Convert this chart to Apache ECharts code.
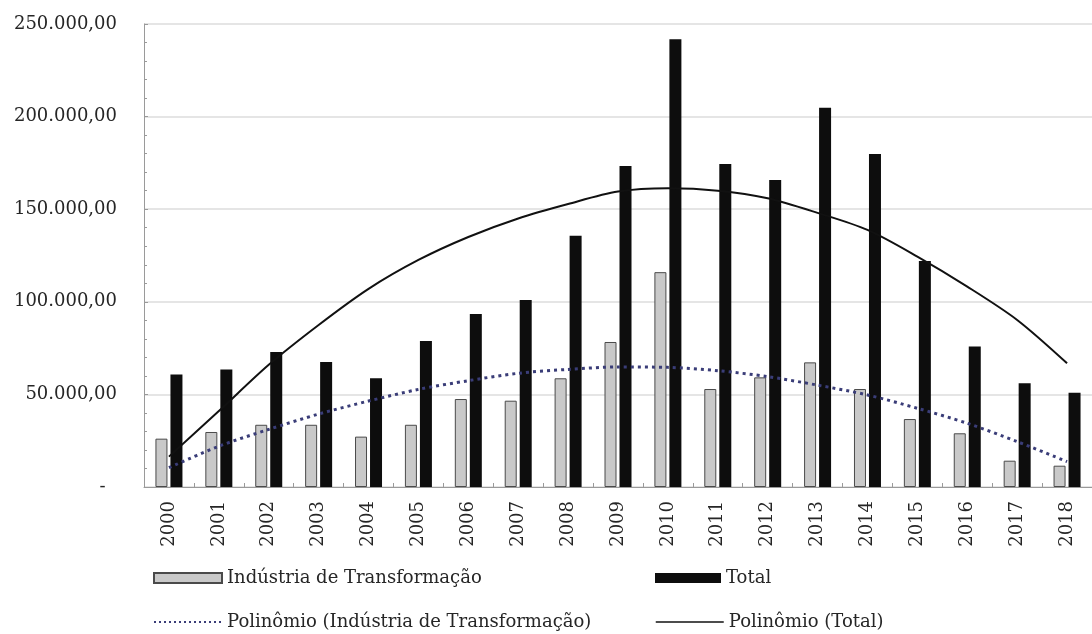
<!DOCTYPE html>
<html>
<head>
<meta charset="utf-8">
<script src="https://cdn.jsdelivr.net/npm/echarts@6/dist/echarts.min.js"></script>
<style>
html,body{margin:0;padding:0;background:#fff;}
#chart{width:1092px;height:634px;}
</style>
</head>
<body>
<div id="chart"></div>
<script>
const years = ['2000','2001','2002','2003','2004','2005','2006','2007','2008','2009','2010','2011','2012','2013','2014','2015','2016','2017','2018'];
const industria = [26100, 29700, 33600, 33600, 27200, 33600, 47500, 46600, 58700, 78300, 116000, 52900, 59200, 67300, 52900, 36700, 29000, 14200, 11500];
const total = [60800, 63500, 72900, 67500, 58700, 78800, 93400, 101000, 135700, 173300, 241700, 174400, 165800, 204800, 179800, 122000, 75800, 56000, 50900];
const trendIndustria = [10400, 22000, 31100, 39400, 46400, 52700, 57400, 61400, 63500, 64800, 64600, 62800, 59600, 55000, 49700, 42500, 34400, 24500, 13700];
const trendTotal = [16400, 41000, 66000, 87500, 107000, 122600, 135000, 145000, 152800, 159500, 161300, 160000, 155900, 148000, 138800, 124400, 108200, 90200, 66800];
const names = ['Indústria de Transformação', 'Total', 'Polinômio (Indústria de Transformação)', 'Polinômio (Total)'];

const FONT = 'DejaVu Serif';
const TXT = '#262626';

function fmt(v) {
  if (v === 0) return '-  ';
  return String(v).replace(/\B(?=(\d{3})+(?!\d))/g, '.') + ',00';
}

const chart = echarts.init(document.getElementById('chart'));
const legendBase = {
  orient: 'horizontal',
  itemHeight: 10,
  itemWidth: 68,
  selectedMode: false,
  textStyle: { fontFamily: FONT, fontSize: 18, color: TXT, lineHeight: 20 }
};
chart.setOption({
  animation: false,
  backgroundColor: '#fff',
  grid: { left: 144, top: 24, right: -8, bottom: 147 },
  legend: [
    Object.assign({}, legendBase, { data: [names[0]], left: 148, top: 563, icon: 'rect' }),
    Object.assign({}, legendBase, { data: [names[1]], left: 650, top: 563, icon: 'rect', itemWidth: 66 }),
    Object.assign({}, legendBase, { data: [names[2]], left: 148, top: 607, itemStyle: { opacity: 0 },
      lineStyle: { width: 2, type: [2, 3] } }),
    Object.assign({}, legendBase, { data: [names[3]], left: 650, top: 607, itemStyle: { opacity: 0 },
      lineStyle: { width: 1.5 } })
  ],
  xAxis: {
    type: 'category',
    data: years,
    boundaryGap: true,
    axisLine: { show: true, lineStyle: { color: '#9a9a9a', width: 1 } },
    axisTick: { show: true, inside: true, length: 4, alignWithLabel: false, lineStyle: { color: '#9a9a9a' } },
    axisLabel: { rotate: 90, margin: 14, fontFamily: FONT, fontSize: 18, color: TXT, interval: 0 },
    splitLine: { show: false }
  },
  yAxis: {
    type: 'value',
    min: 0,
    max: 250000,
    interval: 50000,
    axisLine: { show: true, lineStyle: { color: '#9a9a9a', width: 1 } },
    axisTick: { show: true, inside: true, length: 4, lineStyle: { color: '#9a9a9a' } },
    minorTick: { show: true, splitNumber: 5, length: 3, lineStyle: { color: '#9a9a9a' } },
    axisLabel: { margin: 27, fontFamily: FONT, fontSize: 18, color: TXT, formatter: fmt },
    splitLine: { show: true, lineStyle: { color: '#dcdcdc', width: 1.5 } }
  },
  series: [
    {
      name: names[0], type: 'bar', data: industria, barWidth: 12, barGap: '25%',
      itemStyle: { color: '#c9c9c9', borderColor: '#4a4a4a', borderWidth: 1 }
    },
    {
      name: names[1], type: 'bar', data: total, barWidth: 12, barGap: '25%',
      itemStyle: { color: '#0d0d0d' }
    },
    {
      name: names[2], type: 'line', data: trendIndustria, symbol: 'none', smooth: 0.3,
      lineStyle: { color: '#3a3d78', width: 3, type: [3, 4] },
      itemStyle: { color: '#3a3d78' }, z: 5
    },
    {
      name: names[3], type: 'line', data: trendTotal, symbol: 'none', smooth: 0.3,
      lineStyle: { color: '#111', width: 2 },
      itemStyle: { color: '#111' }, z: 5
    }
  ]
});
</script>
</body>
</html>
